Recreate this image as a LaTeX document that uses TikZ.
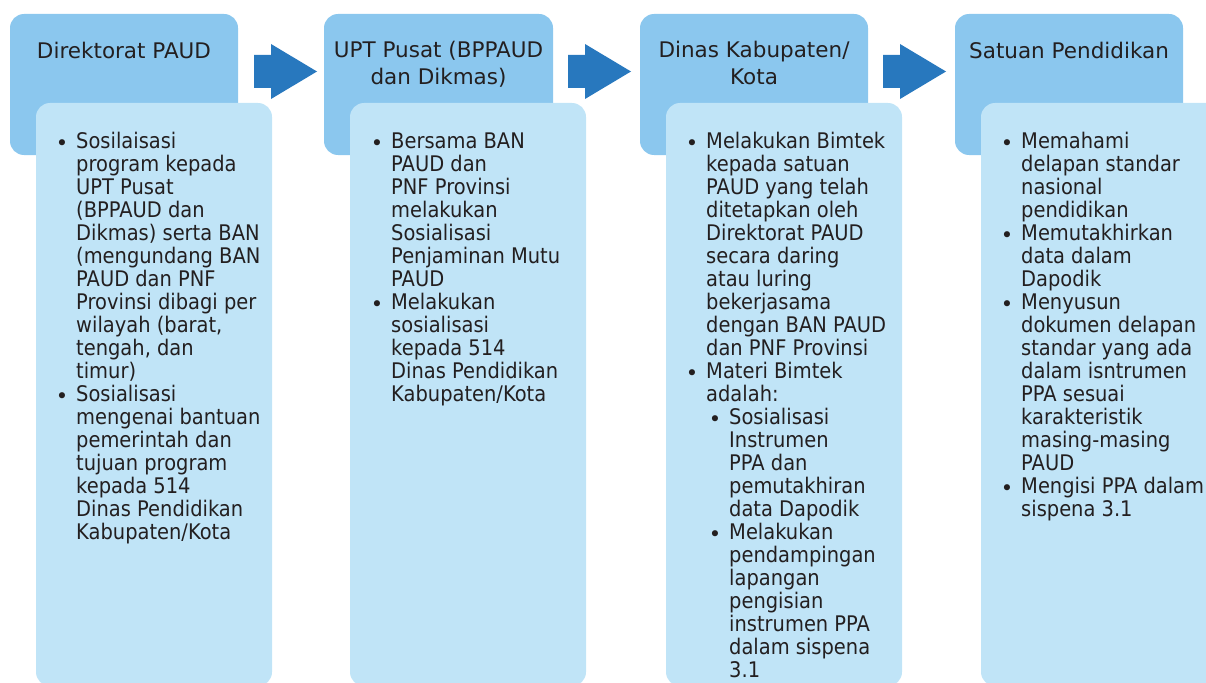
\documentclass[tikz,border=0pt]{standalone}
\usepackage{fontspec}
\setmainfont{DejaVu Sans}
\newfontfamily\bodyfont{DejaVu Sans}[FakeStretch=0.905]
\definecolor{darkbox}{HTML}{8BC7EE}
\definecolor{lightbox}{HTML}{C0E4F7}
\definecolor{arrowblue}{HTML}{2878BE}
\definecolor{txt}{HTML}{231F20}
\newcommand\blk[1]{\vtop{\baselineskip=23pt\lineskiplimit=-20pt\lineskip=0pt\halign{##\hfil\cr #1\crcr}}}
\newcommand\ttl[1]{\vtop{\baselineskip=27pt\lineskiplimit=-20pt\lineskip=0pt\halign{\hfil##\hfil\cr #1\crcr}}}
\tikzset{
  headbox/.style={fill=darkbox, rounded corners=14pt},
  bodybox/.style={fill=lightbox, rounded corners=14pt},
  flowarrow/.style={fill=arrowblue},
  itemtext/.style={anchor=base west, inner sep=0pt, text=txt, font=\bodyfont\fontsize{21.5}{23}\selectfont},
  titletext/.style={anchor=base, inner sep=0pt, text=txt, font=\fontsize{21.5}{27}\selectfont},
  bul/.style={anchor=base, inner sep=0pt, text=txt, yshift=-2.5pt, font=\fontsize{21}{23}\selectfont}
}
\begin{document}
\begin{tikzpicture}[x=1pt,y=-1pt]
\useasboundingbox (0,0) rectangle (1206,682);
\clip (0,0) rectangle (1206,682);
% header boxes
\fill[headbox] (10,14) rectangle (238,155);
\fill[headbox] (324,14) rectangle (553,155);
\fill[headbox] (640,14) rectangle (868,155);
\fill[headbox] (955,14) rectangle (1183,155);
% body boxes
\fill[bodybox] (36,103) rectangle (272,686);
\fill[bodybox] (350,103) rectangle (586,686);
\fill[bodybox] (666,103) rectangle (902,686);
\fill[bodybox] (981,103) rectangle (1220,686);
% arrows
\foreach \ax/\nm in {254/a1,568/a2,883/a3}{
  \fill[flowarrow] (\ax,55) -- (\ax+17,55) -- (\ax+17,44) -- (\ax+63,71.5) -- (\ax+17,99) -- (\ax+17,88) -- (\ax,88) -- cycle;
}
% titles
\node[titletext] (t1) at (124,59) {\ttl{Direktorat PAUD}};
\node[titletext] (t2) at (438.5,58) {\ttl{UPT Pusat (BPPAUD\cr dan Dikmas)}};
\node[titletext] (t3) at (754,58) {\ttl{Dinas Kabupaten/\cr Kota}};
\node[titletext] (t4) at (1069,59) {\ttl{Satuan Pendidikan}};
% box 1
\node[bul] (b11) at (62,148) {•};
\node[itemtext] (i11) at (76,148) {\blk{Sosilaisasi\cr program kepada\cr UPT Pusat\cr (BPPAUD dan\cr Dikmas) serta BAN\cr (mengundang BAN\cr PAUD dan PNF\cr Provinsi dibagi per\cr wilayah (barat,\cr tengah, dan\cr timur)}};
\node[bul] (b12) at (62,401) {•};
\node[itemtext] (i12) at (76,401) {\blk{Sosialisasi\cr mengenai bantuan\cr pemerintah dan\cr tujuan program\cr kepada 514\cr Dinas Pendidikan\cr Kabupaten/Kota}};
% box 2
\node[bul] (b21) at (377,148) {•};
\node[itemtext] (i21) at (391,148) {\blk{Bersama BAN\cr PAUD dan\cr PNF Provinsi\cr melakukan\cr Sosialisasi\cr Penjaminan Mutu\cr PAUD}};
\node[bul] (b22) at (377,309) {•};
\node[itemtext] (i22) at (391,309) {\blk{Melakukan\cr sosialisasi\cr kepada 514\cr Dinas Pendidikan\cr Kabupaten/Kota}};
% box 3
\node[bul] (b31) at (692,148) {•};
\node[itemtext] (i31) at (706,148) {\blk{Melakukan Bimtek\cr kepada satuan\cr PAUD yang telah\cr ditetapkan oleh\cr Direktorat PAUD\cr secara daring\cr atau luring\cr bekerjasama\cr dengan BAN PAUD\cr dan PNF Provinsi}};
\node[bul] (b32) at (692,378) {•};
\node[itemtext] (i32) at (706,378) {\blk{Materi Bimtek\cr adalah:}};
\node[bul] (b33) at (715,424) {•};
\node[itemtext] (i33) at (729,424) {\blk{Sosialisasi\cr Instrumen\cr PPA dan\cr pemutakhiran\cr data Dapodik}};
\node[bul] (b34) at (715,539) {•};
\node[itemtext] (i34) at (729,539) {\blk{Melakukan\cr pendampingan\cr lapangan\cr pengisian\cr instrumen PPA\cr dalam sispena\cr 3.1}};
% box 4
\node[bul] (b41) at (1007,148) {•};
\node[itemtext] (i41) at (1021,148) {\blk{Memahami\cr delapan standar\cr nasional\cr pendidikan}};
\node[bul] (b42) at (1007,240) {•};
\node[itemtext] (i42) at (1021,240) {\blk{Memutakhirkan\cr data dalam\cr Dapodik}};
\node[bul] (b43) at (1007,309) {•};
\node[itemtext] (i43) at (1021,309) {\blk{Menyusun\cr dokumen delapan\cr standar yang ada\cr dalam isntrumen\cr PPA sesuai\cr karakteristik\cr masing-masing\cr PAUD}};
\node[bul] (b44) at (1007,493) {•};
\node[itemtext] (i44) at (1021,493) {\blk{Mengisi PPA dalam\cr sispena 3.1}};
\end{tikzpicture}
\end{document}
